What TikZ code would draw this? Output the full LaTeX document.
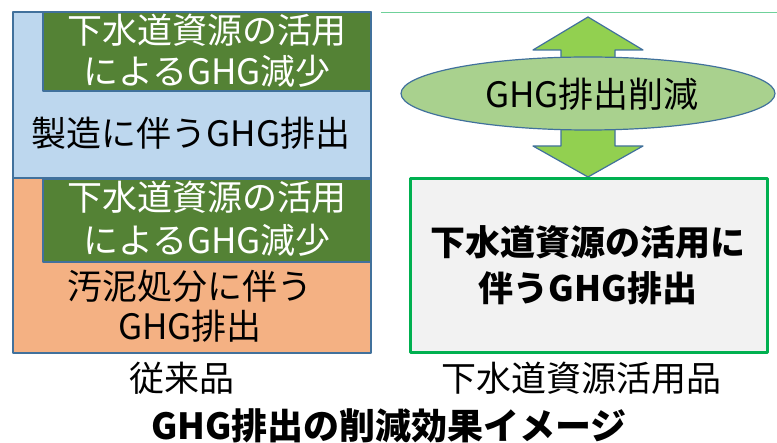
\documentclass[tikz,border=0pt]{standalone}
\usepackage{fontspec}
\setmainfont{Noto Sans CJK JP}
\usetikzlibrary{shapes.geometric}
\definecolor{EdgeBlue}{HTML}{41719C}
\definecolor{MfgBlue}{HTML}{BDD7EE}
\definecolor{SludgeOrange}{HTML}{F4B183}
\definecolor{UseGreen}{HTML}{548235}
\definecolor{ArrowGreen}{HTML}{92D050}
\definecolor{CutGreen}{HTML}{A9D18E}
\definecolor{BoxGreen}{HTML}{00B050}
\definecolor{BoxGray}{HTML}{F2F2F2}
\definecolor{LineGreen}{HTML}{6FD19A}

\begin{document}
\begin{tikzpicture}[x=1pt,y=-1pt,line join=round,
  box/.style={draw=EdgeBlue,line width=1.5pt,inner sep=0pt},
  big/.style={font=\fontsize{35}{41}\selectfont,align=center,inner sep=0pt}]
  \useasboundingbox (0,0) rectangle (777,443);
  % conventional product
  \node[box,fill=MfgBlue,minimum width=358,minimum height=166] (mfg) at (192,95) {};
  \node[box,fill=UseGreen,minimum width=328,minimum height=79] (use1) at (207,51.5) {};
  \node[box,fill=SludgeOrange,minimum width=358,minimum height=175] (sludge) at (192,265.5) {};
  \node[box,fill=UseGreen,minimum width=328,minimum height=83] (use2) at (207,220.5) {};
  \node[big,white] (use1t) at (207,51) {下水道資源の活用\\によるGHG減少};
  \node[big] (mfgt) at (191,133) {製造に伴うGHG排出};
  \node[big,white,font=\fontsize{35}{43}\selectfont] (use2t) at (207,219) {下水道資源の活用\\によるGHG減少};
  \node[big,font=\fontsize{35}{40}\selectfont] (sludget) at (190,306) {汚泥処分に伴う\\GHG排出};
  % sewage resource product
  \draw[LineGreen,line width=1pt] (381,13) -- (777,13);
  \draw[fill=ArrowGreen,draw=EdgeBlue,line width=1.2pt] (588,17) -- (643,50) -- (615,50) -- (615,146)
    -- (643,146) -- (588,177) -- (533,146) -- (561,146) -- (561,50) -- (533,50) -- cycle;
  \node[ellipse,draw=EdgeBlue,fill=CutGreen,line width=1.2pt,minimum width=374,minimum height=73,
    inner sep=0pt] (cut) at (588,93.5) {};
  \node[big] (cutt) at (592,94) {GHG排出削減};
  \node[draw=BoxGreen,fill=BoxGray,line width=3pt,minimum width=357,minimum height=174,inner sep=0pt]
    (sewage) at (589,265.5) {};
  \node[big,font=\fontsize{35}{46}\bfseries\selectfont] (sewaget) at (588,265) {下水道資源の活用に\\伴うGHG排出};
  % labels
  \node[big] (old) at (182,378) {従来品};
  \node[big] (new) at (581,378) {下水道資源活用品};
  \node[big,font=\fontsize{36}{41}\bfseries\selectfont] (title) at (389,426) {GHG排出の削減効果イメージ};
\end{tikzpicture}
\end{document}
